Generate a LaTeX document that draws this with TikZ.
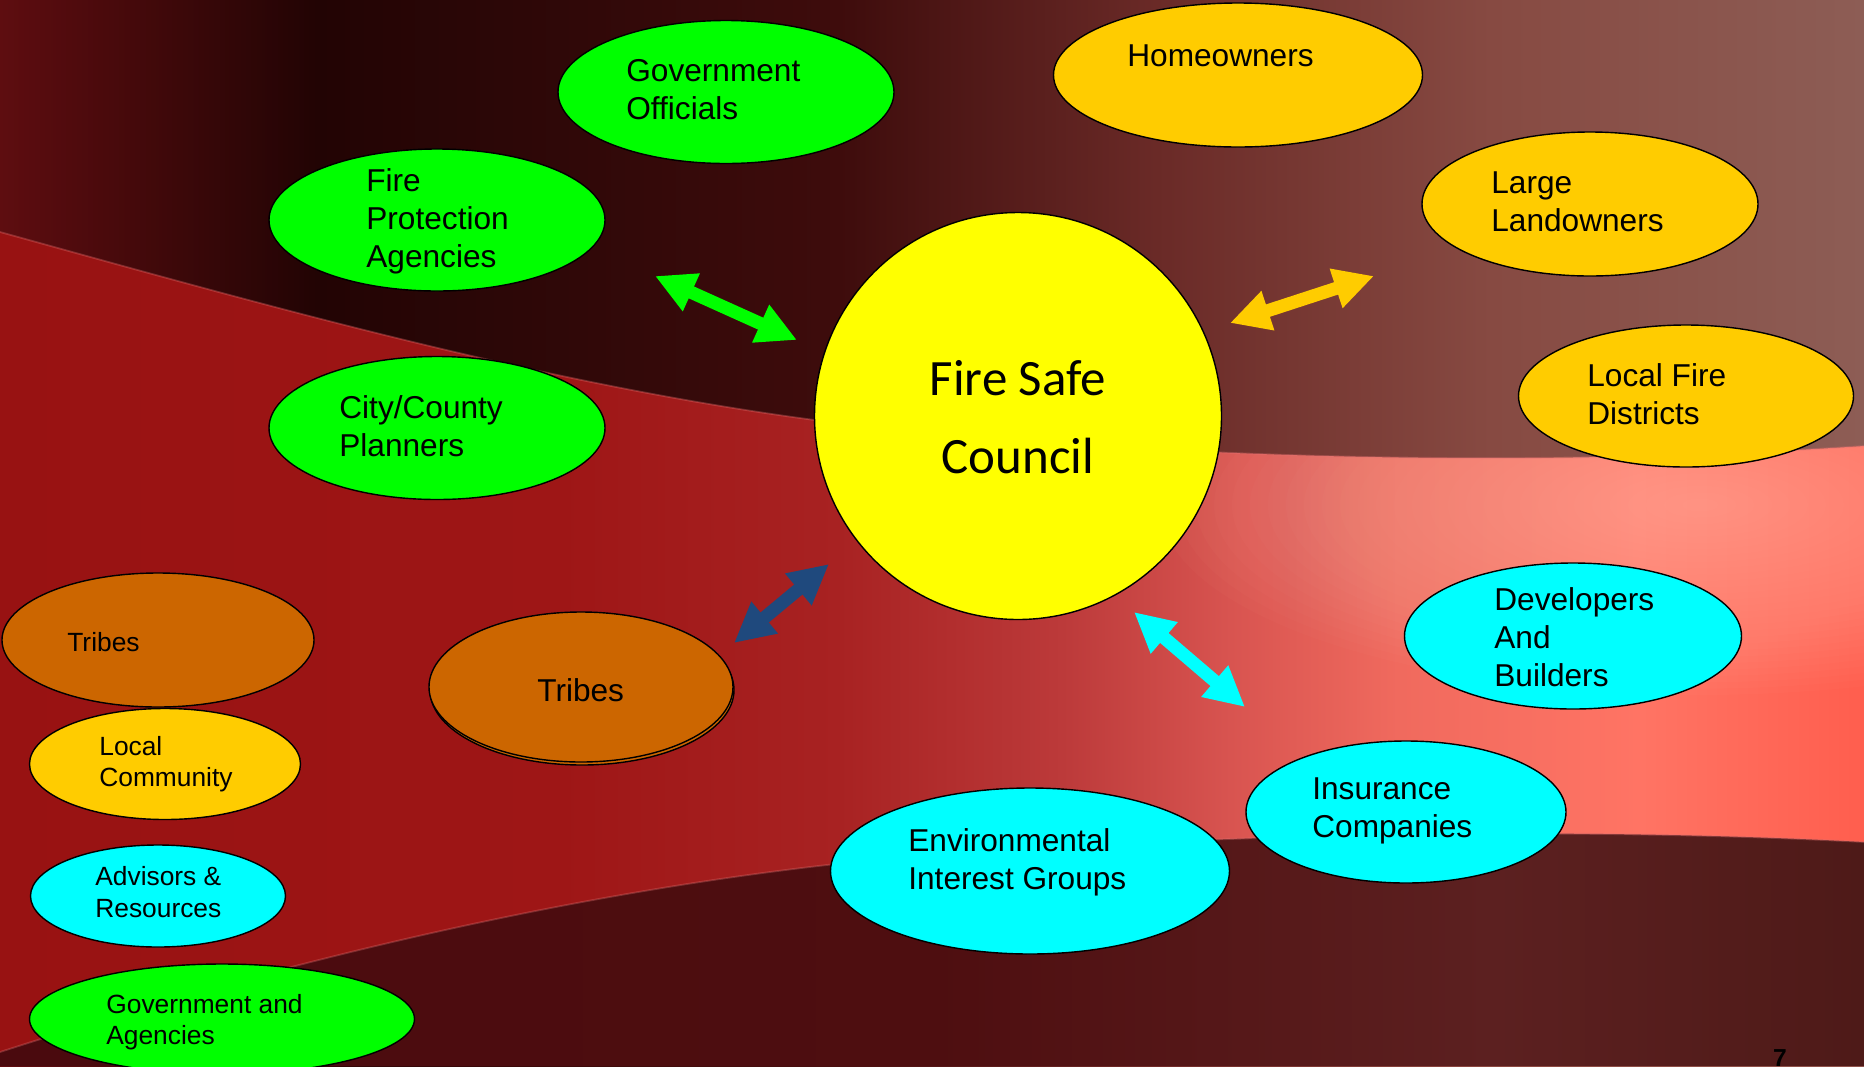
\documentclass[tikz,border=0pt]{standalone}
\usepackage{fontspec}
\setmainfont{Liberation Sans}
\newfontfamily\councilfont{Carlito}
\usetikzlibrary{shapes.geometric, arrows.meta}

\newdimen\pxu
\pxu=0.02cm

% fills of the ellipses and arrows
\definecolor{limefill}{HTML}{00FF00}
\definecolor{goldfill}{HTML}{FFCC00}
\definecolor{aquafill}{HTML}{00FFFF}
\definecolor{tribefill}{HTML}{CC6600}
\definecolor{sunfill}{HTML}{FFFF00}
\definecolor{navyarrow}{HTML}{1F497D}
% background
\definecolor{sky0}{HTML}{5E0D10}
\definecolor{sky1}{HTML}{220404}
\definecolor{sky2}{HTML}{3E0C0C}
\definecolor{sky3}{HTML}{6A2A27}
\definecolor{sky4}{HTML}{874A42}
\definecolor{sky5}{HTML}{8D5D55}
\definecolor{band0}{HTML}{981212}
\definecolor{band1}{HTML}{9E1616}
\definecolor{band2}{HTML}{A82222}
\definecolor{band3}{HTML}{BC3A3A}
\definecolor{band4}{HTML}{D85450}
\definecolor{band5}{HTML}{F06A5E}
\definecolor{band6}{HTML}{FF7464}
\definecolor{band7}{HTML}{FF5E4E}
\definecolor{low0}{HTML}{4A0A0E}
\definecolor{low1}{HTML}{4E0E10}
\definecolor{low2}{HTML}{5C2020}
\definecolor{low3}{HTML}{4E1A18}
\definecolor{bandglow}{HTML}{FFB8A8}
\definecolor{edgeline}{HTML}{E07070}

\pgfdeclarehorizontalshading{skyshade}{100bp}{color(0bp)=(sky0); color(25bp)=(sky0); color(33.5bp)=(sky1); color(47.5bp)=(sky2); color(56bp)=(sky3); color(65bp)=(sky4); color(75bp)=(sky5); color(100bp)=(sky5)}
\pgfdeclarehorizontalshading{bandshade}{100bp}{color(0bp)=(band0); color(25bp)=(band0); color(40bp)=(band1); color(47.5bp)=(band2); color(53.5bp)=(band3); color(58bp)=(band4); color(62.5bp)=(band5); color(69bp)=(band6); color(75bp)=(band7); color(100bp)=(band7)}
\pgfdeclarehorizontalshading{lowshade}{100bp}{color(0bp)=(low0); color(25bp)=(low0); color(50bp)=(low1); color(65bp)=(low2); color(75bp)=(low3); color(100bp)=(low3)}

\begin{document}
\begin{tikzpicture}[x=0.02cm, y=-0.02cm,
    blob/.style={ellipse, draw=black, line width=0.8pt, fill=#1, inner sep=0pt},
    bigtxt/.style={font=\fontsize{18}{21.6}\selectfont, align=left, anchor=west, inner sep=0pt},
    smalltxt/.style={font=\fontsize{15}{18}\selectfont, align=left, anchor=west, inner sep=0pt},
    dbl/.style={line width=7.4pt, >={Triangle[width=22pt,length=22.7pt]}, <->}]
    \useasboundingbox (0,0) rectangle (1864,1066);
    \clip (0,0) rectangle (1864,1066);

    % background
    \shade[shading=skyshade] (0,0) rectangle (1864,1066);
    \shade[shading=bandshade] (0,232) .. controls (300,315) and (600,400) .. (900,430)
        .. controls (1150,455) and (1500,470) .. (1864,446) -- (1864,1066) -- (0,1066) -- cycle;
    \begin{scope}
        \clip (0,232) .. controls (300,315) and (600,400) .. (900,430)
            .. controls (1150,455) and (1500,470) .. (1864,446) -- (1864,1066) -- (0,1066) -- cycle;
        \foreach \k in {1,...,30}
            \fill[bandglow, opacity=0.03] (1700,505) ellipse ({540*\k/30} and {190*\k/30});
    \end{scope}
    \shade[shading=lowshade] (0,1052) .. controls (300,955) and (650,870) .. (1000,850)
        .. controls (1300,832) and (1600,828) .. (1864,842) -- (1864,1066) -- (0,1066) -- cycle;
    \draw[edgeline, opacity=0.35, line width=1pt] (0,232) .. controls (300,315) and (600,400) .. (900,430)
        .. controls (1150,455) and (1500,470) .. (1864,446);
    \draw[edgeline, opacity=0.35, line width=1pt] (0,1052) .. controls (300,955) and (650,870) .. (1000,850)
        .. controls (1300,832) and (1600,828) .. (1864,842);

    % council
    \node[blob=sunfill, minimum width=407*\pxu, minimum height=407*\pxu] (council) at (1018,416) {};
    \node[font=\councilfont\fontsize{29}{44}\selectfont, align=center, inner sep=0pt] (council-t) at (1018,417) {Fire Safe\\Council};

    % upper left, green
    \node[blob=limefill, minimum width=336*\pxu, minimum height=143*\pxu] (govofficials) at (726,92) {};
    \node[bigtxt] (govofficials-t) at (626,90) {Government\\Officials};
    \node[blob=limefill, minimum width=336*\pxu, minimum height=142*\pxu] (fireprot) at (437,220) {};
    \node[bigtxt] (fireprot-t) at (366,221) {Fire\\Protection\\Agencies};
    \node[blob=limefill, minimum width=336*\pxu, minimum height=143*\pxu] (planners) at (437,428) {};
    \node[bigtxt] (planners-t) at (339,426) {City/County\\Planners};

    % upper right, gold
    \node[blob=goldfill, minimum width=369*\pxu, minimum height=144*\pxu] (homeowners) at (1238,75) {};
    \node[bigtxt] (homeowners-t) at (1127,56) {Homeowners};
    \node[blob=goldfill, minimum width=336*\pxu, minimum height=144*\pxu] (landowners) at (1590,204) {};
    \node[bigtxt] (landowners-t) at (1491,202) {Large\\Landowners};
    \node[blob=goldfill, minimum width=335*\pxu, minimum height=142*\pxu] (firedistricts) at (1686,396) {};
    \node[bigtxt] (firedistricts-t) at (1587,394) {Local Fire\\Districts};

    % lower right, aqua
    \node[blob=aquafill, minimum width=337*\pxu, minimum height=146*\pxu] (developers) at (1573,636) {};
    \node[bigtxt] (developers-t) at (1494,637) {Developers\\And\\Builders};
    \node[blob=aquafill, minimum width=320*\pxu, minimum height=142*\pxu] (insurance) at (1406,812) {};
    \node[bigtxt] (insurance-t) at (1312,811) {Insurance\\Companies};
    \node[blob=aquafill, minimum width=399*\pxu, minimum height=166*\pxu] (environmental) at (1030,871) {};
    \node[bigtxt] (environmental-t) at (908,862) {Environmental\\Interest Groups};

    % tribes in the middle (with shadow)
    \node[blob=tribefill, minimum width=304*\pxu, minimum height=150*\pxu] (tribesmid-s) at (582,690) {};
    \node[blob=tribefill, minimum width=304*\pxu, minimum height=150*\pxu] (tribesmid) at (581,687) {};
    \node[bigtxt] (tribesmid-t) at (537,690) {Tribes};

    % left column
    \node[blob=tribefill, minimum width=312*\pxu, minimum height=134*\pxu] (tribesleft) at (158,640) {};
    \node[smalltxt] (tribesleft-t) at (67,642) {Tribes};
    \node[blob=goldfill, minimum width=271*\pxu, minimum height=111*\pxu] (community) at (165,764) {};
    \node[smalltxt] (community-t) at (99,764) {Local\\Community};
    \node[blob=aquafill, minimum width=255*\pxu, minimum height=102*\pxu] (advisors) at (158,896) {};
    \node[smalltxt] (advisors-t) at (95,892) {Advisors \&\\Resources};
    \node[blob=limefill, minimum width=385*\pxu, minimum height=110*\pxu] (govagencies) at (222,1019) {};
    \node[smalltxt] (govagencies-t) at (106,1022) {Government and\\Agencies};

    % double arrows
    \coordinate (grnA) at (655,276);
    \coordinate (grnB) at (797,340);
    \coordinate (gldA) at (1230,323);
    \coordinate (gldB) at (1374,276);
    \coordinate (navA) at (734,643);
    \coordinate (navB) at (829,564);
    \coordinate (aquA) at (1134,612);
    \coordinate (aquB) at (1245,707);
    \draw[dbl, limefill] (grnA) -- (grnB);
    \draw[dbl, goldfill] (gldA) -- (gldB);
    \draw[dbl, navyarrow] (navA) -- (navB);
    \draw[dbl, aquafill] (aquA) -- (aquB);

    % page number
    \node[font=\bfseries\fontsize{14}{16}\selectfont, anchor=north, inner sep=0pt] (pagenum) at (1780,1049) {7};
\end{tikzpicture}
\end{document}
